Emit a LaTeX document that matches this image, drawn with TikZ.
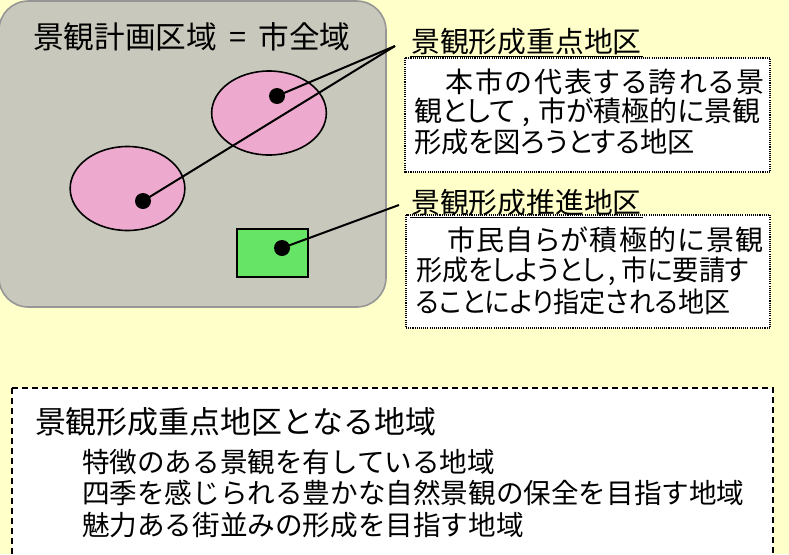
\documentclass[tikz,border=0pt]{standalone}
\usepackage{fontspec}
\newfontfamily\jpfont{Noto Sans CJK JP}
\newfontfamily\jpprop[RawFeature=+palt]{Noto Sans CJK JP}
\usetikzlibrary{shapes.geometric}

\definecolor{bgyellow}{RGB}{255,255,202}
\definecolor{areagray}{RGB}{200,200,188}
\definecolor{areaedge}{RGB}{150,150,150}
\definecolor{zonepink}{RGB}{238,170,206}
\definecolor{zonegreen}{RGB}{102,228,102}

\begin{document}
\begin{tikzpicture}[x=0.75pt,y=-0.75pt,
  every node/.style={inner sep=0pt,outer sep=0pt},
  areatitle/.style={anchor=west,font=\jpfont\fontsize{23}{25}\selectfont},
  zonelabel/.style={anchor=west,inner sep=1pt,font=\jpfont\fontsize{21.6}{24}\selectfont},
  noteline/.style={anchor=west,font=\jpprop\fontsize{21}{24}\selectfont},
  notespread/.style={noteline,font=\jpprop\fontsize{21}{24}\selectfont\addfontfeature{LetterSpace=#1}},
  notetight/.style={noteline,font=\jpprop\fontsize{21}{24}\selectfont\addfontfeature{FakeStretch=#1}},
  listhead/.style={anchor=west,font=\jpfont\fontsize{23.2}{26}\selectfont},
  listline/.style={anchor=west,font=\jpfont\fontsize{20.7}{24}\selectfont},
  zone/.style={ellipse,draw,line width=1.2pt,fill=zonepink,minimum width=86pt,minimum height=63pt},
  dot/.style={circle,fill=black,minimum size=12pt},
  leader/.style={line width=1.5pt},
  notebox/.style={draw,fill=white,line width=0.8pt,dash pattern=on 0.8pt off 0.8pt}]

\useasboundingbox (0,0) rectangle (789,554);
\fill[bgyellow] (0,0) rectangle (789,554);

% city area
\draw[areaedge,fill=areagray,line width=1.2pt,rounded corners=22pt] (-1,1) rectangle (386,307);
\node[areatitle] (title) at (33,37) {景観計画区域\hspace{0.4em}=\hspace{0.4em}市全域};

\node[zone] (zoneA) at (269,113) {};
\node[zone] (zoneB) at (127.5,188.5) {};
\node[draw,line width=1.5pt,fill=zonegreen,minimum width=53pt,minimum height=36pt] (zoneC) at (272.5,253) {};

\node[dot] (ptA) at (277,96) {};
\node[dot] (ptB) at (143,201) {};
\node[dot] (ptC) at (282,248) {};

\coordinate (tipA) at (395,46);
\coordinate (tipC) at (399,205);

\draw[leader] (ptA.center) -- (tipA);
\draw[leader] (ptB.center) -- (tipA);
\draw[leader] (ptC.center) -- (tipC);

% notes
\draw[notebox] (405,58) rectangle (770,172);
\draw[notebox] (406,215) rectangle (770,328);

\node[zonelabel] (lblA) at (410,42) {景観形成重点地区};
\node[zonelabel] (lblC) at (410,203) {景観形成推進地区};
\draw[line width=0.8pt] (lblA.south west) -- (lblA.south east);
\draw[line width=0.8pt] (lblC.south west) -- (lblC.south east);

\node[notespread=7.4] (noteA1) at (445,82) {本市の代表する誇れる景};
\node[noteline] (noteA2) at (414,112) {観として\hspace{0.25em},\hspace{0.3em}市が積極的に景観};
\node[notetight=0.975] (noteA3) at (414,142) {形成を図ろうとする地区};

\node[notespread=5] (noteC1) at (447,240) {市民自らが積極的に景観};
\node[notetight=0.935] (noteC2) at (416,271) {形成をしようとし\hspace{0.15em},\hspace{0.2em}市に要請す};
\node[notetight=0.93] (noteC3) at (416,302) {ることにより指定される地区};

% list of areas
\draw[line width=1.3pt,dash pattern=on 4.5pt off 3pt,fill=white] (12,388) rectangle (773,580);
\node[listhead] (head) at (35,422) {景観形成重点地区となる地域};
\node[listline] (item1) at (82,462) {特徴のある景観を有している地域};
\node[listline] (item2) at (82,493) {四季を感じられる豊かな自然景観の保全を目指す地域};
\node[listline] (item3) at (82,525) {魅力ある街並みの形成を目指す地域};

\end{tikzpicture}
\end{document}
